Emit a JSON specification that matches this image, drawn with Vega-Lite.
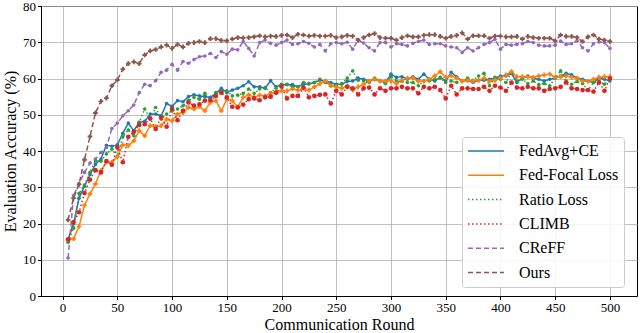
{
"$schema": "https://vega.github.io/schema/vega-lite/v6.json",
"width": 596, "height": 290,
"autosize": {"type": "none"},
"padding": {"left": 41, "top": 6, "right": 3, "bottom": 37},
"config": {
  "font": "Liberation Serif",
  "view": {"stroke": "#000", "strokeWidth": 1},
  "axis": {"domainColor": "#000", "domainWidth": 1, "tickColor": "#000", "tickSize": 3.5, "tickWidth": 1,
    "gridColor": "#b0b0b0", "gridWidth": 0.8, "labelFont": "Liberation Serif", "labelFontSize": 13, "labelColor": "#000",
    "titleFont": "Liberation Serif", "titleFontSize": 16, "titleFontWeight": "normal", "titleColor": "#000", "labelPadding": 2},
  "legend": {"labelFont": "Liberation Serif", "labelFontSize": 16, "symbolType": "stroke", "symbolSize": 1296, "symbolStrokeWidth": 1.5}
},
"datasets": {"d": [
{"s":"FedAvg+CE","r":5,"v":15.6},{"s":"FedAvg+CE","r":10,"v":19.9},{"s":"FedAvg+CE","r":15,"v":27.0},{"s":"FedAvg+CE","r":20,"v":30.3},{"s":"FedAvg+CE","r":25,"v":33.5},{"s":"FedAvg+CE","r":30,"v":36.3},{"s":"FedAvg+CE","r":35,"v":37.8},{"s":"FedAvg+CE","r":40,"v":41.6},{"s":"FedAvg+CE","r":45,"v":41.3},{"s":"FedAvg+CE","r":50,"v":41.7},
{"s":"FedAvg+CE","r":55,"v":44.9},{"s":"FedAvg+CE","r":60,"v":47.7},{"s":"FedAvg+CE","r":65,"v":45.6},{"s":"FedAvg+CE","r":70,"v":47.9},{"s":"FedAvg+CE","r":75,"v":48.2},{"s":"FedAvg+CE","r":80,"v":50.2},{"s":"FedAvg+CE","r":85,"v":50.2},{"s":"FedAvg+CE","r":90,"v":49.7},{"s":"FedAvg+CE","r":95,"v":53.1},{"s":"FedAvg+CE","r":100,"v":52.3},
{"s":"FedAvg+CE","r":105,"v":53.9},{"s":"FedAvg+CE","r":110,"v":53.6},{"s":"FedAvg+CE","r":115,"v":55.0},{"s":"FedAvg+CE","r":120,"v":55.5},{"s":"FedAvg+CE","r":125,"v":55.2},{"s":"FedAvg+CE","r":130,"v":55.0},{"s":"FedAvg+CE","r":135,"v":54.8},{"s":"FedAvg+CE","r":140,"v":55.9},{"s":"FedAvg+CE","r":145,"v":57.3},{"s":"FedAvg+CE","r":150,"v":56.1},
{"s":"FedAvg+CE","r":155,"v":56.8},{"s":"FedAvg+CE","r":160,"v":57.3},{"s":"FedAvg+CE","r":165,"v":58.0},{"s":"FedAvg+CE","r":170,"v":59.1},{"s":"FedAvg+CE","r":175,"v":57.7},{"s":"FedAvg+CE","r":180,"v":57.7},{"s":"FedAvg+CE","r":185,"v":57.3},{"s":"FedAvg+CE","r":190,"v":59.4},{"s":"FedAvg+CE","r":195,"v":57.7},{"s":"FedAvg+CE","r":200,"v":58.3},
{"s":"FedAvg+CE","r":205,"v":58.3},{"s":"FedAvg+CE","r":210,"v":58.3},{"s":"FedAvg+CE","r":215,"v":57.7},{"s":"FedAvg+CE","r":220,"v":58.4},{"s":"FedAvg+CE","r":225,"v":58.5},{"s":"FedAvg+CE","r":230,"v":58.9},{"s":"FedAvg+CE","r":235,"v":59.5},{"s":"FedAvg+CE","r":240,"v":59.3},{"s":"FedAvg+CE","r":245,"v":58.9},{"s":"FedAvg+CE","r":250,"v":58.4},
{"s":"FedAvg+CE","r":255,"v":58.4},{"s":"FedAvg+CE","r":260,"v":59.2},{"s":"FedAvg+CE","r":265,"v":59.3},{"s":"FedAvg+CE","r":270,"v":60.1},{"s":"FedAvg+CE","r":275,"v":59.8},{"s":"FedAvg+CE","r":280,"v":59.3},{"s":"FedAvg+CE","r":285,"v":59.8},{"s":"FedAvg+CE","r":290,"v":59.3},{"s":"FedAvg+CE","r":295,"v":58.9},{"s":"FedAvg+CE","r":300,"v":61.2},
{"s":"FedAvg+CE","r":305,"v":60.3},{"s":"FedAvg+CE","r":310,"v":60.5},{"s":"FedAvg+CE","r":315,"v":59.8},{"s":"FedAvg+CE","r":320,"v":60.5},{"s":"FedAvg+CE","r":325,"v":59.8},{"s":"FedAvg+CE","r":330,"v":61.2},{"s":"FedAvg+CE","r":335,"v":59.8},{"s":"FedAvg+CE","r":340,"v":59.3},{"s":"FedAvg+CE","r":345,"v":60.3},{"s":"FedAvg+CE","r":350,"v":59.3},
{"s":"FedAvg+CE","r":355,"v":61.7},{"s":"FedAvg+CE","r":360,"v":60.5},{"s":"FedAvg+CE","r":365,"v":59.3},{"s":"FedAvg+CE","r":370,"v":59.5},{"s":"FedAvg+CE","r":375,"v":58.9},{"s":"FedAvg+CE","r":380,"v":59.5},{"s":"FedAvg+CE","r":385,"v":59.5},{"s":"FedAvg+CE","r":390,"v":59.8},{"s":"FedAvg+CE","r":395,"v":60.1},{"s":"FedAvg+CE","r":400,"v":60.7},
{"s":"FedAvg+CE","r":405,"v":60.7},{"s":"FedAvg+CE","r":410,"v":61.4},{"s":"FedAvg+CE","r":415,"v":58.9},{"s":"FedAvg+CE","r":420,"v":60.1},{"s":"FedAvg+CE","r":425,"v":60.7},{"s":"FedAvg+CE","r":430,"v":60.1},{"s":"FedAvg+CE","r":435,"v":59.8},{"s":"FedAvg+CE","r":440,"v":59.3},{"s":"FedAvg+CE","r":445,"v":59.8},{"s":"FedAvg+CE","r":450,"v":60.1},
{"s":"FedAvg+CE","r":455,"v":60.7},{"s":"FedAvg+CE","r":460,"v":61.4},{"s":"FedAvg+CE","r":465,"v":61.0},{"s":"FedAvg+CE","r":470,"v":60.1},{"s":"FedAvg+CE","r":475,"v":59.8},{"s":"FedAvg+CE","r":480,"v":59.3},{"s":"FedAvg+CE","r":485,"v":58.9},{"s":"FedAvg+CE","r":490,"v":60.1},{"s":"FedAvg+CE","r":495,"v":59.8},{"s":"FedAvg+CE","r":500,"v":59.3},
{"s":"Fed-Focal Loss","r":5,"v":15.6},{"s":"Fed-Focal Loss","r":10,"v":15.8},{"s":"Fed-Focal Loss","r":15,"v":19.2},{"s":"Fed-Focal Loss","r":20,"v":25.0},{"s":"Fed-Focal Loss","r":25,"v":28.2},{"s":"Fed-Focal Loss","r":30,"v":30.9},{"s":"Fed-Focal Loss","r":35,"v":34.6},{"s":"Fed-Focal Loss","r":40,"v":36.9},{"s":"Fed-Focal Loss","r":45,"v":36.9},{"s":"Fed-Focal Loss","r":50,"v":38.4},
{"s":"Fed-Focal Loss","r":55,"v":41.7},{"s":"Fed-Focal Loss","r":60,"v":41.5},{"s":"Fed-Focal Loss","r":65,"v":42.8},{"s":"Fed-Focal Loss","r":70,"v":45.6},{"s":"Fed-Focal Loss","r":75,"v":44.2},{"s":"Fed-Focal Loss","r":80,"v":47.0},{"s":"Fed-Focal Loss","r":85,"v":46.7},{"s":"Fed-Focal Loss","r":90,"v":47.0},{"s":"Fed-Focal Loss","r":95,"v":48.8},{"s":"Fed-Focal Loss","r":100,"v":48.3},
{"s":"Fed-Focal Loss","r":105,"v":50.2},{"s":"Fed-Focal Loss","r":110,"v":50.6},{"s":"Fed-Focal Loss","r":115,"v":52.0},{"s":"Fed-Focal Loss","r":120,"v":51.6},{"s":"Fed-Focal Loss","r":125,"v":52.2},{"s":"Fed-Focal Loss","r":130,"v":51.1},{"s":"Fed-Focal Loss","r":135,"v":53.4},{"s":"Fed-Focal Loss","r":140,"v":53.9},{"s":"Fed-Focal Loss","r":145,"v":51.1},{"s":"Fed-Focal Loss","r":150,"v":54.3},
{"s":"Fed-Focal Loss","r":155,"v":53.9},{"s":"Fed-Focal Loss","r":160,"v":52.2},{"s":"Fed-Focal Loss","r":165,"v":54.8},{"s":"Fed-Focal Loss","r":170,"v":55.5},{"s":"Fed-Focal Loss","r":175,"v":54.8},{"s":"Fed-Focal Loss","r":180,"v":55.4},{"s":"Fed-Focal Loss","r":185,"v":55.2},{"s":"Fed-Focal Loss","r":190,"v":55.9},{"s":"Fed-Focal Loss","r":195,"v":56.1},{"s":"Fed-Focal Loss","r":200,"v":56.6},
{"s":"Fed-Focal Loss","r":205,"v":56.6},{"s":"Fed-Focal Loss","r":210,"v":57.1},{"s":"Fed-Focal Loss","r":215,"v":56.8},{"s":"Fed-Focal Loss","r":220,"v":57.3},{"s":"Fed-Focal Loss","r":225,"v":56.8},{"s":"Fed-Focal Loss","r":230,"v":57.7},{"s":"Fed-Focal Loss","r":235,"v":58.6},{"s":"Fed-Focal Loss","r":240,"v":59.3},{"s":"Fed-Focal Loss","r":245,"v":58.0},{"s":"Fed-Focal Loss","r":250,"v":57.7},
{"s":"Fed-Focal Loss","r":255,"v":57.3},{"s":"Fed-Focal Loss","r":260,"v":58.0},{"s":"Fed-Focal Loss","r":265,"v":56.8},{"s":"Fed-Focal Loss","r":270,"v":57.7},{"s":"Fed-Focal Loss","r":275,"v":58.4},{"s":"Fed-Focal Loss","r":280,"v":59.3},{"s":"Fed-Focal Loss","r":285,"v":59.8},{"s":"Fed-Focal Loss","r":290,"v":59.3},{"s":"Fed-Focal Loss","r":295,"v":59.3},{"s":"Fed-Focal Loss","r":300,"v":59.3},
{"s":"Fed-Focal Loss","r":305,"v":58.6},{"s":"Fed-Focal Loss","r":310,"v":59.5},{"s":"Fed-Focal Loss","r":315,"v":60.1},{"s":"Fed-Focal Loss","r":320,"v":60.1},{"s":"Fed-Focal Loss","r":325,"v":59.2},{"s":"Fed-Focal Loss","r":330,"v":59.3},{"s":"Fed-Focal Loss","r":335,"v":59.8},{"s":"Fed-Focal Loss","r":340,"v":60.7},{"s":"Fed-Focal Loss","r":345,"v":61.9},{"s":"Fed-Focal Loss","r":350,"v":60.3},
{"s":"Fed-Focal Loss","r":355,"v":60.7},{"s":"Fed-Focal Loss","r":360,"v":60.1},{"s":"Fed-Focal Loss","r":365,"v":59.3},{"s":"Fed-Focal Loss","r":370,"v":59.5},{"s":"Fed-Focal Loss","r":375,"v":59.2},{"s":"Fed-Focal Loss","r":380,"v":59.5},{"s":"Fed-Focal Loss","r":385,"v":60.1},{"s":"Fed-Focal Loss","r":390,"v":59.2},{"s":"Fed-Focal Loss","r":395,"v":59.5},{"s":"Fed-Focal Loss","r":400,"v":60.1},
{"s":"Fed-Focal Loss","r":405,"v":61.0},{"s":"Fed-Focal Loss","r":410,"v":61.9},{"s":"Fed-Focal Loss","r":415,"v":60.5},{"s":"Fed-Focal Loss","r":420,"v":60.5},{"s":"Fed-Focal Loss","r":425,"v":60.5},{"s":"Fed-Focal Loss","r":430,"v":60.3},{"s":"Fed-Focal Loss","r":435,"v":60.7},{"s":"Fed-Focal Loss","r":440,"v":61.0},{"s":"Fed-Focal Loss","r":445,"v":61.2},{"s":"Fed-Focal Loss","r":450,"v":60.3},
{"s":"Fed-Focal Loss","r":455,"v":60.5},{"s":"Fed-Focal Loss","r":460,"v":60.7},{"s":"Fed-Focal Loss","r":465,"v":60.3},{"s":"Fed-Focal Loss","r":470,"v":60.1},{"s":"Fed-Focal Loss","r":475,"v":59.3},{"s":"Fed-Focal Loss","r":480,"v":59.2},{"s":"Fed-Focal Loss","r":485,"v":59.8},{"s":"Fed-Focal Loss","r":490,"v":60.3},{"s":"Fed-Focal Loss","r":495,"v":60.5},{"s":"Fed-Focal Loss","r":500,"v":60.5},
{"s":"Ratio Loss","r":5,"v":14.8},{"s":"Ratio Loss","r":10,"v":18.7},{"s":"Ratio Loss","r":15,"v":28.3},{"s":"Ratio Loss","r":20,"v":30.6},{"s":"Ratio Loss","r":25,"v":34.1},{"s":"Ratio Loss","r":30,"v":37.3},{"s":"Ratio Loss","r":35,"v":37.2},{"s":"Ratio Loss","r":40,"v":39.2},{"s":"Ratio Loss","r":45,"v":40.5},{"s":"Ratio Loss","r":50,"v":38.5},
{"s":"Ratio Loss","r":55,"v":43.9},{"s":"Ratio Loss","r":60,"v":45.8},{"s":"Ratio Loss","r":65,"v":44.2},{"s":"Ratio Loss","r":70,"v":47.9},{"s":"Ratio Loss","r":75,"v":51.6},{"s":"Ratio Loss","r":80,"v":48.8},{"s":"Ratio Loss","r":85,"v":52.0},{"s":"Ratio Loss","r":90,"v":48.8},{"s":"Ratio Loss","r":95,"v":50.2},{"s":"Ratio Loss","r":100,"v":51.1},
{"s":"Ratio Loss","r":105,"v":51.6},{"s":"Ratio Loss","r":110,"v":52.5},{"s":"Ratio Loss","r":115,"v":53.9},{"s":"Ratio Loss","r":120,"v":54.8},{"s":"Ratio Loss","r":125,"v":54.3},{"s":"Ratio Loss","r":130,"v":55.9},{"s":"Ratio Loss","r":135,"v":53.9},{"s":"Ratio Loss","r":140,"v":56.1},{"s":"Ratio Loss","r":145,"v":56.4},{"s":"Ratio Loss","r":150,"v":56.6},
{"s":"Ratio Loss","r":155,"v":55.2},{"s":"Ratio Loss","r":160,"v":55.4},{"s":"Ratio Loss","r":165,"v":55.9},{"s":"Ratio Loss","r":170,"v":57.1},{"s":"Ratio Loss","r":175,"v":55.9},{"s":"Ratio Loss","r":180,"v":57.1},{"s":"Ratio Loss","r":185,"v":57.5},{"s":"Ratio Loss","r":190,"v":56.1},{"s":"Ratio Loss","r":195,"v":57.3},{"s":"Ratio Loss","r":200,"v":58.4},
{"s":"Ratio Loss","r":205,"v":58.4},{"s":"Ratio Loss","r":210,"v":57.7},{"s":"Ratio Loss","r":215,"v":57.7},{"s":"Ratio Loss","r":220,"v":58.9},{"s":"Ratio Loss","r":225,"v":58.7},{"s":"Ratio Loss","r":230,"v":58.9},{"s":"Ratio Loss","r":235,"v":59.8},{"s":"Ratio Loss","r":240,"v":58.9},{"s":"Ratio Loss","r":245,"v":58.0},{"s":"Ratio Loss","r":250,"v":58.3},
{"s":"Ratio Loss","r":255,"v":58.6},{"s":"Ratio Loss","r":260,"v":60.1},{"s":"Ratio Loss","r":265,"v":62.1},{"s":"Ratio Loss","r":270,"v":59.5},{"s":"Ratio Loss","r":275,"v":59.3},{"s":"Ratio Loss","r":280,"v":58.9},{"s":"Ratio Loss","r":285,"v":60.1},{"s":"Ratio Loss","r":290,"v":59.3},{"s":"Ratio Loss","r":295,"v":58.6},{"s":"Ratio Loss","r":300,"v":60.5},
{"s":"Ratio Loss","r":305,"v":59.3},{"s":"Ratio Loss","r":310,"v":59.2},{"s":"Ratio Loss","r":315,"v":58.9},{"s":"Ratio Loss","r":320,"v":58.9},{"s":"Ratio Loss","r":325,"v":58.0},{"s":"Ratio Loss","r":330,"v":59.3},{"s":"Ratio Loss","r":335,"v":59.3},{"s":"Ratio Loss","r":340,"v":59.8},{"s":"Ratio Loss","r":345,"v":60.1},{"s":"Ratio Loss","r":350,"v":58.9},
{"s":"Ratio Loss","r":355,"v":59.3},{"s":"Ratio Loss","r":360,"v":58.9},{"s":"Ratio Loss","r":365,"v":59.3},{"s":"Ratio Loss","r":370,"v":60.1},{"s":"Ratio Loss","r":375,"v":59.5},{"s":"Ratio Loss","r":380,"v":60.7},{"s":"Ratio Loss","r":385,"v":61.4},{"s":"Ratio Loss","r":390,"v":58.0},{"s":"Ratio Loss","r":395,"v":60.3},{"s":"Ratio Loss","r":400,"v":59.8},
{"s":"Ratio Loss","r":405,"v":58.9},{"s":"Ratio Loss","r":410,"v":61.7},{"s":"Ratio Loss","r":415,"v":59.3},{"s":"Ratio Loss","r":420,"v":59.8},{"s":"Ratio Loss","r":425,"v":58.6},{"s":"Ratio Loss","r":430,"v":59.3},{"s":"Ratio Loss","r":435,"v":58.3},{"s":"Ratio Loss","r":440,"v":58.6},{"s":"Ratio Loss","r":445,"v":58.0},{"s":"Ratio Loss","r":450,"v":60.1},
{"s":"Ratio Loss","r":455,"v":62.1},{"s":"Ratio Loss","r":460,"v":59.3},{"s":"Ratio Loss","r":465,"v":58.4},{"s":"Ratio Loss","r":470,"v":59.2},{"s":"Ratio Loss","r":475,"v":58.6},{"s":"Ratio Loss","r":480,"v":56.8},{"s":"Ratio Loss","r":485,"v":58.9},{"s":"Ratio Loss","r":490,"v":59.3},{"s":"Ratio Loss","r":495,"v":58.4},{"s":"Ratio Loss","r":500,"v":59.8},
{"s":"CLIMB","r":5,"v":15.6},{"s":"CLIMB","r":10,"v":20.4},{"s":"CLIMB","r":15,"v":23.1},{"s":"CLIMB","r":20,"v":28.4},{"s":"CLIMB","r":25,"v":32.1},{"s":"CLIMB","r":30,"v":34.7},{"s":"CLIMB","r":35,"v":34.1},{"s":"CLIMB","r":40,"v":37.2},{"s":"CLIMB","r":45,"v":36.2},{"s":"CLIMB","r":50,"v":41.0},
{"s":"CLIMB","r":55,"v":36.9},{"s":"CLIMB","r":60,"v":43.9},{"s":"CLIMB","r":65,"v":45.3},{"s":"CLIMB","r":70,"v":47.2},{"s":"CLIMB","r":75,"v":47.4},{"s":"CLIMB","r":80,"v":49.0},{"s":"CLIMB","r":85,"v":46.1},{"s":"CLIMB","r":90,"v":49.3},{"s":"CLIMB","r":95,"v":46.7},{"s":"CLIMB","r":100,"v":51.6},
{"s":"CLIMB","r":105,"v":48.5},{"s":"CLIMB","r":110,"v":51.1},{"s":"CLIMB","r":115,"v":53.4},{"s":"CLIMB","r":120,"v":52.5},{"s":"CLIMB","r":125,"v":52.9},{"s":"CLIMB","r":130,"v":53.9},{"s":"CLIMB","r":135,"v":54.0},{"s":"CLIMB","r":140,"v":55.2},{"s":"CLIMB","r":145,"v":56.1},{"s":"CLIMB","r":150,"v":54.8},
{"s":"CLIMB","r":155,"v":52.2},{"s":"CLIMB","r":160,"v":52.0},{"s":"CLIMB","r":165,"v":52.8},{"s":"CLIMB","r":170,"v":54.3},{"s":"CLIMB","r":175,"v":54.5},{"s":"CLIMB","r":180,"v":54.0},{"s":"CLIMB","r":185,"v":54.8},{"s":"CLIMB","r":190,"v":55.0},{"s":"CLIMB","r":195,"v":56.1},{"s":"CLIMB","r":200,"v":57.8},
{"s":"CLIMB","r":205,"v":54.5},{"s":"CLIMB","r":210,"v":55.2},{"s":"CLIMB","r":215,"v":55.2},{"s":"CLIMB","r":220,"v":57.5},{"s":"CLIMB","r":225,"v":54.8},{"s":"CLIMB","r":230,"v":55.2},{"s":"CLIMB","r":235,"v":55.5},{"s":"CLIMB","r":240,"v":55.6},{"s":"CLIMB","r":245,"v":53.1},{"s":"CLIMB","r":250,"v":56.6},
{"s":"CLIMB","r":255,"v":55.6},{"s":"CLIMB","r":260,"v":57.7},{"s":"CLIMB","r":265,"v":57.3},{"s":"CLIMB","r":270,"v":55.6},{"s":"CLIMB","r":275,"v":57.3},{"s":"CLIMB","r":280,"v":57.5},{"s":"CLIMB","r":285,"v":55.6},{"s":"CLIMB","r":290,"v":57.3},{"s":"CLIMB","r":295,"v":56.6},{"s":"CLIMB","r":300,"v":57.3},
{"s":"CLIMB","r":305,"v":57.3},{"s":"CLIMB","r":310,"v":57.7},{"s":"CLIMB","r":315,"v":57.3},{"s":"CLIMB","r":320,"v":57.3},{"s":"CLIMB","r":325,"v":55.9},{"s":"CLIMB","r":330,"v":57.7},{"s":"CLIMB","r":335,"v":57.3},{"s":"CLIMB","r":340,"v":57.7},{"s":"CLIMB","r":345,"v":56.8},{"s":"CLIMB","r":350,"v":54.5},
{"s":"CLIMB","r":355,"v":58.0},{"s":"CLIMB","r":360,"v":55.6},{"s":"CLIMB","r":365,"v":57.3},{"s":"CLIMB","r":370,"v":57.3},{"s":"CLIMB","r":375,"v":57.1},{"s":"CLIMB","r":380,"v":57.1},{"s":"CLIMB","r":385,"v":57.7},{"s":"CLIMB","r":390,"v":56.6},{"s":"CLIMB","r":395,"v":58.0},{"s":"CLIMB","r":400,"v":57.5},
{"s":"CLIMB","r":405,"v":56.6},{"s":"CLIMB","r":410,"v":58.9},{"s":"CLIMB","r":415,"v":57.5},{"s":"CLIMB","r":420,"v":57.3},{"s":"CLIMB","r":425,"v":57.7},{"s":"CLIMB","r":430,"v":57.3},{"s":"CLIMB","r":435,"v":57.3},{"s":"CLIMB","r":440,"v":56.6},{"s":"CLIMB","r":445,"v":57.1},{"s":"CLIMB","r":450,"v":57.3},
{"s":"CLIMB","r":455,"v":57.7},{"s":"CLIMB","r":460,"v":58.9},{"s":"CLIMB","r":465,"v":57.3},{"s":"CLIMB","r":470,"v":57.1},{"s":"CLIMB","r":475,"v":56.8},{"s":"CLIMB","r":480,"v":56.8},{"s":"CLIMB","r":485,"v":56.4},{"s":"CLIMB","r":490,"v":58.9},{"s":"CLIMB","r":495,"v":56.6},{"s":"CLIMB","r":500,"v":60.0},
{"s":"CReFF","r":5,"v":10.5},{"s":"CReFF","r":10,"v":27.7},{"s":"CReFF","r":15,"v":31.0},{"s":"CReFF","r":20,"v":34.1},{"s":"CReFF","r":25,"v":36.7},{"s":"CReFF","r":30,"v":37.8},{"s":"CReFF","r":35,"v":39.6},{"s":"CReFF","r":40,"v":41.0},{"s":"CReFF","r":45,"v":46.2},{"s":"CReFF","r":50,"v":47.7},
{"s":"CReFF","r":55,"v":49.7},{"s":"CReFF","r":60,"v":51.1},{"s":"CReFF","r":65,"v":52.7},{"s":"CReFF","r":70,"v":56.1},{"s":"CReFF","r":75,"v":58.4},{"s":"CReFF","r":80,"v":58.0},{"s":"CReFF","r":85,"v":59.4},{"s":"CReFF","r":90,"v":61.7},{"s":"CReFF","r":95,"v":62.3},{"s":"CReFF","r":100,"v":63.9},
{"s":"CReFF","r":105,"v":62.3},{"s":"CReFF","r":110,"v":64.7},{"s":"CReFF","r":115,"v":64.2},{"s":"CReFF","r":120,"v":65.2},{"s":"CReFF","r":125,"v":66.0},{"s":"CReFF","r":130,"v":66.2},{"s":"CReFF","r":135,"v":66.9},{"s":"CReFF","r":140,"v":65.8},{"s":"CReFF","r":145,"v":67.4},{"s":"CReFF","r":150,"v":66.7},
{"s":"CReFF","r":155,"v":68.1},{"s":"CReFF","r":160,"v":67.9},{"s":"CReFF","r":165,"v":70.2},{"s":"CReFF","r":170,"v":68.3},{"s":"CReFF","r":175,"v":66.2},{"s":"CReFF","r":180,"v":69.9},{"s":"CReFF","r":185,"v":70.6},{"s":"CReFF","r":190,"v":69.7},{"s":"CReFF","r":195,"v":69.2},{"s":"CReFF","r":200,"v":69.9},
{"s":"CReFF","r":205,"v":70.6},{"s":"CReFF","r":210,"v":69.4},{"s":"CReFF","r":215,"v":69.6},{"s":"CReFF","r":220,"v":70.2},{"s":"CReFF","r":225,"v":69.7},{"s":"CReFF","r":230,"v":68.7},{"s":"CReFF","r":235,"v":69.4},{"s":"CReFF","r":240,"v":67.6},{"s":"CReFF","r":245,"v":69.6},{"s":"CReFF","r":250,"v":69.9},
{"s":"CReFF","r":255,"v":69.6},{"s":"CReFF","r":260,"v":70.0},{"s":"CReFF","r":265,"v":68.1},{"s":"CReFF","r":270,"v":70.6},{"s":"CReFF","r":275,"v":69.8},{"s":"CReFF","r":280,"v":68.5},{"s":"CReFF","r":285,"v":67.6},{"s":"CReFF","r":290,"v":69.9},{"s":"CReFF","r":295,"v":69.9},{"s":"CReFF","r":300,"v":68.7},
{"s":"CReFF","r":305,"v":69.6},{"s":"CReFF","r":310,"v":69.4},{"s":"CReFF","r":315,"v":69.0},{"s":"CReFF","r":320,"v":69.7},{"s":"CReFF","r":325,"v":70.2},{"s":"CReFF","r":330,"v":70.6},{"s":"CReFF","r":335,"v":69.4},{"s":"CReFF","r":340,"v":69.6},{"s":"CReFF","r":345,"v":69.6},{"s":"CReFF","r":350,"v":69.0},
{"s":"CReFF","r":355,"v":68.7},{"s":"CReFF","r":360,"v":68.5},{"s":"CReFF","r":365,"v":67.2},{"s":"CReFF","r":370,"v":68.5},{"s":"CReFF","r":375,"v":67.6},{"s":"CReFF","r":380,"v":68.5},{"s":"CReFF","r":385,"v":69.4},{"s":"CReFF","r":390,"v":69.9},{"s":"CReFF","r":395,"v":70.8},{"s":"CReFF","r":400,"v":68.1},
{"s":"CReFF","r":405,"v":69.4},{"s":"CReFF","r":410,"v":69.2},{"s":"CReFF","r":415,"v":69.4},{"s":"CReFF","r":420,"v":69.6},{"s":"CReFF","r":425,"v":70.2},{"s":"CReFF","r":430,"v":69.9},{"s":"CReFF","r":435,"v":69.2},{"s":"CReFF","r":440,"v":69.0},{"s":"CReFF","r":445,"v":69.0},{"s":"CReFF","r":450,"v":69.2},
{"s":"CReFF","r":455,"v":70.3},{"s":"CReFF","r":460,"v":69.4},{"s":"CReFF","r":465,"v":69.6},{"s":"CReFF","r":470,"v":70.4},{"s":"CReFF","r":475,"v":68.5},{"s":"CReFF","r":480,"v":67.6},{"s":"CReFF","r":485,"v":69.6},{"s":"CReFF","r":490,"v":70.1},{"s":"CReFF","r":495,"v":69.9},{"s":"CReFF","r":500,"v":68.3},
{"s":"Ours","r":5,"v":21.0},{"s":"Ours","r":10,"v":27.0},{"s":"Ours","r":15,"v":30.8},{"s":"Ours","r":20,"v":37.6},{"s":"Ours","r":25,"v":44.0},{"s":"Ours","r":30,"v":50.5},{"s":"Ours","r":35,"v":53.7},{"s":"Ours","r":40,"v":54.6},{"s":"Ours","r":45,"v":58.0},{"s":"Ours","r":50,"v":59.6},
{"s":"Ours","r":55,"v":62.6},{"s":"Ours","r":60,"v":64.1},{"s":"Ours","r":65,"v":64.6},{"s":"Ours","r":70,"v":64.1},{"s":"Ours","r":75,"v":66.5},{"s":"Ours","r":80,"v":67.6},{"s":"Ours","r":85,"v":68.0},{"s":"Ours","r":90,"v":68.7},{"s":"Ours","r":95,"v":69.2},{"s":"Ours","r":100,"v":68.3},
{"s":"Ours","r":105,"v":69.4},{"s":"Ours","r":110,"v":68.7},{"s":"Ours","r":115,"v":69.7},{"s":"Ours","r":120,"v":69.9},{"s":"Ours","r":125,"v":70.2},{"s":"Ours","r":130,"v":69.9},{"s":"Ours","r":135,"v":71.0},{"s":"Ours","r":140,"v":71.0},{"s":"Ours","r":145,"v":70.5},{"s":"Ours","r":150,"v":70.4},
{"s":"Ours","r":155,"v":70.9},{"s":"Ours","r":160,"v":71.3},{"s":"Ours","r":165,"v":71.2},{"s":"Ours","r":170,"v":71.3},{"s":"Ours","r":175,"v":71.5},{"s":"Ours","r":180,"v":71.8},{"s":"Ours","r":185,"v":71.5},{"s":"Ours","r":190,"v":71.7},{"s":"Ours","r":195,"v":71.6},{"s":"Ours","r":200,"v":71.9},
{"s":"Ours","r":205,"v":72.0},{"s":"Ours","r":210,"v":71.3},{"s":"Ours","r":215,"v":72.2},{"s":"Ours","r":220,"v":72.0},{"s":"Ours","r":225,"v":71.7},{"s":"Ours","r":230,"v":71.9},{"s":"Ours","r":235,"v":71.7},{"s":"Ours","r":240,"v":71.7},{"s":"Ours","r":245,"v":71.9},{"s":"Ours","r":250,"v":71.3},
{"s":"Ours","r":255,"v":71.5},{"s":"Ours","r":260,"v":71.9},{"s":"Ours","r":265,"v":71.7},{"s":"Ours","r":270,"v":70.6},{"s":"Ours","r":275,"v":71.3},{"s":"Ours","r":280,"v":72.0},{"s":"Ours","r":285,"v":72.4},{"s":"Ours","r":290,"v":71.3},{"s":"Ours","r":295,"v":71.1},{"s":"Ours","r":300,"v":71.1},
{"s":"Ours","r":305,"v":70.6},{"s":"Ours","r":310,"v":71.3},{"s":"Ours","r":315,"v":71.8},{"s":"Ours","r":320,"v":71.5},{"s":"Ours","r":325,"v":71.5},{"s":"Ours","r":330,"v":71.9},{"s":"Ours","r":335,"v":72.1},{"s":"Ours","r":340,"v":72.1},{"s":"Ours","r":345,"v":71.6},{"s":"Ours","r":350,"v":71.1},
{"s":"Ours","r":355,"v":71.6},{"s":"Ours","r":360,"v":71.9},{"s":"Ours","r":365,"v":72.6},{"s":"Ours","r":370,"v":70.9},{"s":"Ours","r":375,"v":71.8},{"s":"Ours","r":380,"v":71.8},{"s":"Ours","r":385,"v":71.8},{"s":"Ours","r":390,"v":71.1},{"s":"Ours","r":395,"v":71.7},{"s":"Ours","r":400,"v":71.7},
{"s":"Ours","r":405,"v":71.5},{"s":"Ours","r":410,"v":71.5},{"s":"Ours","r":415,"v":71.6},{"s":"Ours","r":420,"v":70.9},{"s":"Ours","r":425,"v":71.6},{"s":"Ours","r":430,"v":71.3},{"s":"Ours","r":435,"v":71.1},{"s":"Ours","r":440,"v":71.1},{"s":"Ours","r":445,"v":71.1},{"s":"Ours","r":450,"v":70.4},
{"s":"Ours","r":455,"v":72.0},{"s":"Ours","r":460,"v":71.6},{"s":"Ours","r":465,"v":71.6},{"s":"Ours","r":470,"v":71.3},{"s":"Ours","r":475,"v":70.2},{"s":"Ours","r":480,"v":71.5},{"s":"Ours","r":485,"v":72.0},{"s":"Ours","r":490,"v":70.9},{"s":"Ours","r":495,"v":70.6},{"s":"Ours","r":500,"v":70.2}
]},
"data": {"name": "d"},
"encoding": {
  "x": {"field": "r", "type": "quantitative", "scale": {"domain": [-19.75, 524.75], "nice": false, "zero": false},
    "axis": {"values": [0,50,100,150,200,250,300,350,400,450,500], "title": "Communication Round", "titlePadding": 1.5}},
  "y": {"field": "v", "type": "quantitative", "scale": {"domain": [0, 80], "nice": false},
    "axis": {"values": [0,10,20,30,40,50,60,70,80], "title": "Evaluation Accuracy (%)", "titlePadding": 4}}
},
"layer": [
  {"mark": {"type": "line", "strokeWidth": 1.5},
   "encoding": {
     "color": {"field": "s", "type": "nominal",
       "scale": {"domain": ["FedAvg+CE","Fed-Focal Loss","Ratio Loss","CLIMB","CReFF","Ours"], "range": ["#1f77b4","#ff7f0e","#2ca02c","#d62728","#9467bd","#8c564b"]},
       "legend": {"title": null, "orient": "none", "legendX": 421, "legendY": 131, "symbolType": "stroke", "symbolSize": 1296, "symbolStrokeWidth": 1.5,
         "labelFontSize": 16, "labelFont": "Liberation Serif", "labelColor": "#000", "padding": 5, "fillColor": "rgba(255,255,255,0.85)", "strokeColor": "#cccccc",
         "cornerRadius": 3, "rowPadding": 6.3, "clipHeight": 18, "labelOffset": 14, "labelLimit": 200}},
     "strokeDash": {"field": "s", "type": "nominal",
       "scale": {"domain": ["FedAvg+CE","Fed-Focal Loss","Ratio Loss","CLIMB","CReFF","Ours"], "range": [[1,0],[1,0],[1.5,2.5],[1.5,2.5],[5,3],[5,3]]},
       "legend": {"title": null, "orient": "none", "legendX": 421, "legendY": 131, "symbolType": "stroke", "symbolSize": 1296, "symbolStrokeWidth": 1.5,
         "labelFontSize": 16, "labelFont": "Liberation Serif", "labelColor": "#000", "padding": 5, "fillColor": "rgba(255,255,255,0.85)", "strokeColor": "#cccccc",
         "cornerRadius": 3, "rowPadding": 6.3, "clipHeight": 18, "labelOffset": 14, "labelLimit": 200}}}},
  {"transform": [{"filter": {"field": "s", "oneOf": ["FedAvg+CE", "Ratio Loss", "CReFF"]}}],
   "mark": {"type": "point", "filled": true, "opacity": 1, "shape": "circle", "size": 13, "strokeWidth": 0},
   "encoding": {"fill": {"field": "s", "type": "nominal", "scale": {"domain": ["FedAvg+CE","Fed-Focal Loss","Ratio Loss","CLIMB","CReFF","Ours"], "range": ["#1f77b4","#ff7f0e","#2ca02c","#d62728","#9467bd","#8c564b"]}, "legend": null}}},
  {"transform": [{"filter": {"field": "s", "oneOf": ["Fed-Focal Loss", "Ours"]}}],
   "mark": {"type": "point", "filled": true, "opacity": 1, "shape": "cross", "size": 22, "strokeWidth": 0},
   "encoding": {"fill": {"field": "s", "type": "nominal", "scale": {"domain": ["FedAvg+CE","Fed-Focal Loss","Ratio Loss","CLIMB","CReFF","Ours"], "range": ["#1f77b4","#ff7f0e","#2ca02c","#d62728","#9467bd","#8c564b"]}, "legend": null}}},
  {"transform": [{"filter": {"field": "s", "oneOf": ["CLIMB"]}}],
   "mark": {"type": "point", "filled": true, "opacity": 1, "shape": "circle", "size": 22, "strokeWidth": 0},
   "encoding": {"fill": {"field": "s", "type": "nominal", "scale": {"domain": ["FedAvg+CE","Fed-Focal Loss","Ratio Loss","CLIMB","CReFF","Ours"], "range": ["#1f77b4","#ff7f0e","#2ca02c","#d62728","#9467bd","#8c564b"]}, "legend": null}}}
]
}
